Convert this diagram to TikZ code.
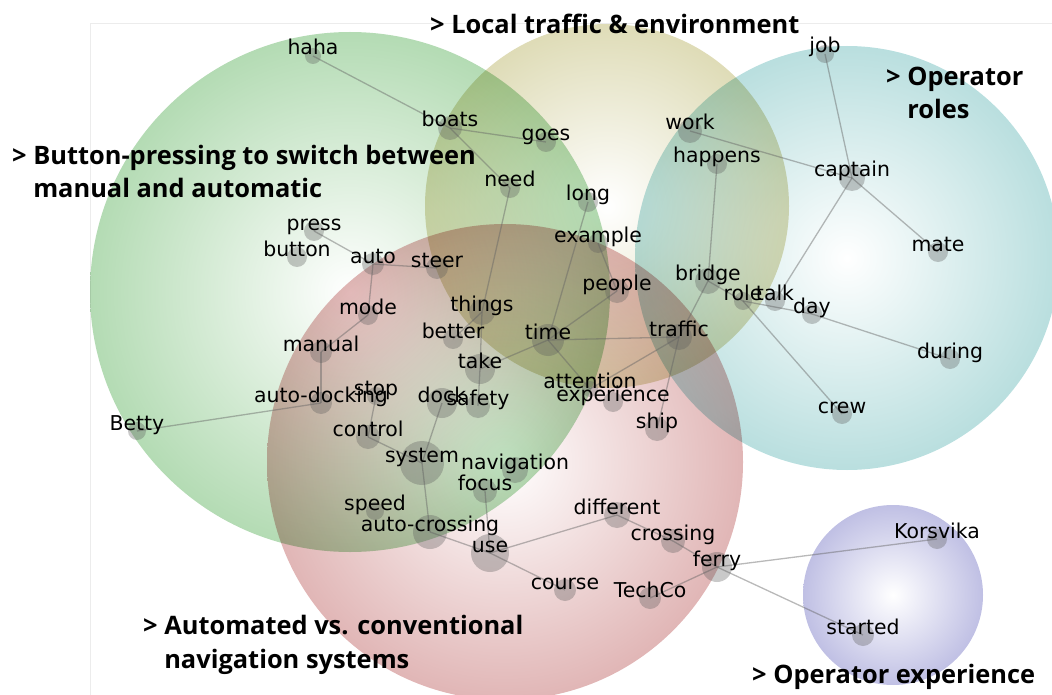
\documentclass[tikz,border=0pt]{standalone}
\usepackage{fontspec}
\setmainfont{DejaVu Sans}
\newfontfamily\headfont{Open Sans}
\usetikzlibrary{positioning}

\definecolor{buttoncolor}{RGB}{118,190,118}
\definecolor{trafficcolor}{RGB}{196,191,124}
\definecolor{rolescolor}{RGB}{128,196,196}
\definecolor{navcolor}{RGB}{200,122,122}
\definecolor{expcolor}{RGB}{140,140,206}
\definecolor{dotcolor}{RGB}{90,90,90}
\definecolor{linkcolor}{RGB}{100,100,100}
\definecolor{framecolor}{RGB}{236,236,236}

%% radial shadings: white core, theme colour at the rim
\pgfdeclareradialshading{buttonshade}{\pgfpoint{0bp}{0bp}}{%
  color(0bp)=(white); color(25bp)=(buttoncolor!55!white);
  color(50bp)=(buttoncolor); color(75bp)=(buttoncolor)}
\pgfdeclareradialshading{trafficshade}{\pgfpoint{0bp}{0bp}}{%
  color(0bp)=(white); color(25bp)=(trafficcolor!55!white);
  color(50bp)=(trafficcolor); color(75bp)=(trafficcolor)}
\pgfdeclareradialshading{rolesshade}{\pgfpoint{0bp}{0bp}}{%
  color(0bp)=(white); color(25bp)=(rolescolor!55!white);
  color(50bp)=(rolescolor); color(75bp)=(rolescolor)}
\pgfdeclareradialshading{navshade}{\pgfpoint{0bp}{0bp}}{%
  color(0bp)=(white); color(25bp)=(navcolor!55!white);
  color(50bp)=(navcolor); color(75bp)=(navcolor)}
\pgfdeclareradialshading{expshade}{\pgfpoint{0bp}{0bp}}{%
  color(0bp)=(white); color(25bp)=(expcolor!55!white);
  color(50bp)=(expcolor); color(75bp)=(expcolor)}

\pgfdeclarelayer{bubbles}
\pgfdeclarelayer{links}
\pgfsetlayers{bubbles,links,main}

\tikzset{
  %% bubble : a theme circle
  bubble/.style={blend mode=multiply},
  %% dot : grey marker under a word
  dot/.style={
    circle,
    fill=dotcolor,
    fill opacity=0.33,
    inner sep=0pt,
    minimum size=#1bp
  },
  %% wordtext : the word itself, baseline just above the dot
  wordtext/.style={
    anchor=base,
    inner sep=0pt,
    font=\fontsize{20.5}{24}\selectfont
  },
  %% word : dot plus text, use as \pic (name) at (x,y) {word={text}{size}};
  pics/word/.style 2 args={code={
    \node[dot=#2] (-d) at (0,0) {};
    \node[wordtext] (-t) at (0,-1) {#1};
  }},
  %% link : connection between two words
  link/.style={draw=linkcolor, draw opacity=0.45, line width=1.3bp},
  %% heading : theme title (base = baseline of the last line)
  heading/.style={
    anchor=base west,
    inner sep=0pt,
    align=left,
    font=\headfont\bfseries\fontsize{25.5}{34}\selectfont
  }
}

\begin{document}
\begin{tikzpicture}
  [x=1bp,
  y=-1bp]
  \useasboundingbox (0,0) rectangle (1052,695);

  %% Theme circles
  \begin{pgfonlayer}{bubbles}
    \draw[framecolor, line width=1bp] (1052,24) -- (90,24) -- (90,695);
    \shade[bubble, shading=buttonshade] (350,292) circle (260);
    \shade[bubble, shading=trafficshade] (607,206) circle (182);
    \shade[bubble, shading=rolesshade] (847,258) circle (212);
    \shade[bubble, shading=navshade] (505,462) circle (238);
    \shade[bubble, shading=expshade] (893,595) circle (90);
  \end{pgfonlayer}

  %% Words
  \pic (haha) at (313,56) {word={haha}{16}};
  \pic (boats) at (450,128) {word={boats}{24}};
  \pic (goes) at (546,142) {word={goes}{20}};
  \pic (need) at (510,188) {word={need}{20}};
  \pic (long) at (588,202) {word={long}{20}};
  \pic (example) at (598,243) {word={example}{20}};
  \pic (people) at (617,291) {word={people}{24}};
  \pic (work) at (690,131) {word={work}{24}};
  \pic (happens) at (717,164) {word={happens}{20}};
  \pic (job) at (825,54) {word={job}{18}};
  \pic (captain) at (852,178) {word={captain}{26}};
  \pic (mate) at (938,252) {word={mate}{20}};
  \pic (press) at (314,231) {word={press}{20}};
  \pic (button) at (297,257) {word={button}{20}};
  \pic (auto) at (373,264) {word={auto}{22}};
  \pic (steer) at (437,268) {word={steer}{22}};
  \pic (mode) at (368,315) {word={mode}{20}};
  \pic (things) at (482,312) {word={things}{26}};
  \pic (better) at (453,339) {word={better}{20}};
  \pic (time) at (548,340) {word={time}{32}};
  \pic (traffic) at (679,337) {word={traffic}{26}};
  \pic (bridge) at (708,281) {word={bridge}{26}};
  \pic (role) at (743,301) {word={role}{18}};
  \pic (talk) at (775,301) {word={talk}{20}};
  \pic (day) at (812,314) {word={day}{20}};
  \pic (during) at (950,359) {word={during}{20}};
  \pic (crew) at (842,414) {word={crew}{20}};
  \pic (manual) at (321,352) {word={manual}{22}};
  \pic (take) at (480,369) {word={take}{30}};
  \pic (stop) at (376,396) {word={stop}{18}};
  \pic (autodock) at (321,403) {word={auto-docking}{22}};
  \pic (dock) at (442,403) {word={dock}{30}};
  \pic (safety) at (478,406) {word={safety}{24}};
  \pic (attention) at (590,389) {word={attention}{16}};
  \pic (experience) at (613,402) {word={experience}{20}};
  \pic (ship) at (657,429) {word={ship}{24}};
  \pic (Betty) at (137,431) {word={Betty}{18}};
  \pic (control) at (368,437) {word={control}{24}};
  \pic (system) at (422,463) {word={system}{44}};
  \pic (navigation) at (515,470) {word={navigation}{26}};
  \pic (focus) at (485,491) {word={focus}{24}};
  \pic (speed) at (375,511) {word={speed}{18}};
  \pic (autocross) at (430,532) {word={auto-crossing}{34}};
  \pic (use) at (490,553) {word={use}{38}};
  \pic (different) at (617,515) {word={different}{26}};
  \pic (crossing) at (673,541) {word={crossing}{24}};
  \pic (ferry) at (717,567) {word={ferry}{30}};
  \pic (course) at (565,590) {word={course}{22}};
  \pic (TechCo) at (650,598) {word={TechCo}{22}};
  \pic (Korsvika) at (937,539) {word={Korsvika}{20}};
  \pic (started) at (863,635) {word={started}{22}};

  %% Connections
  \begin{pgfonlayer}{links}
    \draw[link] (haha-d.center) -- (boats-d.center);
    \draw[link] (boats-d.center) -- (goes-d.center);
    \draw[link] (boats-d.center) -- (need-d.center);
    \draw[link] (need-d.center) -- (things-d.center);
    \draw[link] (things-d.center) -- (better-d.center);
    \draw[link] (things-d.center) -- (take-d.center);
    \draw[link] (take-d.center) -- (safety-d.center);
    \draw[link] (take-d.center) -- (time-d.center);
    \draw[link] (time-d.center) -- (long-d.center);
    \draw[link] (example-d.center) -- (people-d.center);
    \draw[link] (people-d.center) -- (time-d.center);
    \draw[link] (time-d.center) -- (traffic-d.center);
    \draw[link] (time-d.center) -- (attention-d.center);
    \draw[link] (traffic-d.center) -- (attention-d.center);
    \draw[link] (traffic-d.center) -- (ship-d.center);
    \draw[link] (traffic-d.center) -- (bridge-d.center);
    \draw[link] (bridge-d.center) -- (happens-d.center);
    \draw[link] (work-d.center) -- (captain-d.center);
    \draw[link] (job-d.center) -- (captain-d.center);
    \draw[link] (captain-d.center) -- (mate-d.center);
    \draw[link] (captain-d.center) -- (talk-d.center);
    \draw[link] (bridge-d.center) -- (role-d.center);
    \draw[link] (role-d.center) -- (day-d.center);
    \draw[link] (day-d.center) -- (during-d.center);
    \draw[link] (role-d.center) -- (crew-d.center);
    \draw[link] (press-d.center) -- (auto-d.center);
    \draw[link] (auto-d.center) -- (steer-d.center);
    \draw[link] (auto-d.center) -- (mode-d.center);
    \draw[link] (mode-d.center) -- (manual-d.center);
    \draw[link] (manual-d.center) -- (autodock-d.center);
    \draw[link] (autodock-d.center) -- (Betty-d.center);
    \draw[link] (stop-d.center) -- (control-d.center);
    \draw[link] (control-d.center) -- (system-d.center);
    \draw[link] (dock-d.center) -- (system-d.center);
    \draw[link] (system-d.center) -- (autocross-d.center);
    \draw[link] (autocross-d.center) -- (use-d.center);
    \draw[link] (focus-d.center) -- (use-d.center);
    \draw[link] (use-d.center) -- (different-d.center);
    \draw[link] (use-d.center) -- (course-d.center);
    \draw[link] (different-d.center) -- (crossing-d.center);
    \draw[link] (crossing-d.center) -- (ferry-d.center);
    \draw[link] (ferry-d.center) -- (TechCo-d.center);
    \draw[link] (ferry-d.center) -- (Korsvika-d.center);
    \draw[link] (ferry-d.center) -- (started-d.center);
  \end{pgfonlayer}

  %% Theme titles
  \node[heading] (hlocal) at (430,34) {> Local traffic \& environment};
  \node[heading] (hroles) at (886,119) {> Operator\\\phantom{>} roles};
  \node[heading] (hbutton) at (12,198) {%
    > Button-pressing to switch between\\\phantom{>} manual and automatic};
  \node[heading] (hnav) at (143,668) {%
    > Automated vs. conventional\\\phantom{>} navigation systems};
  \node[heading] (hexp) at (752,683) {> Operator experience};

\end{tikzpicture}
\end{document}
